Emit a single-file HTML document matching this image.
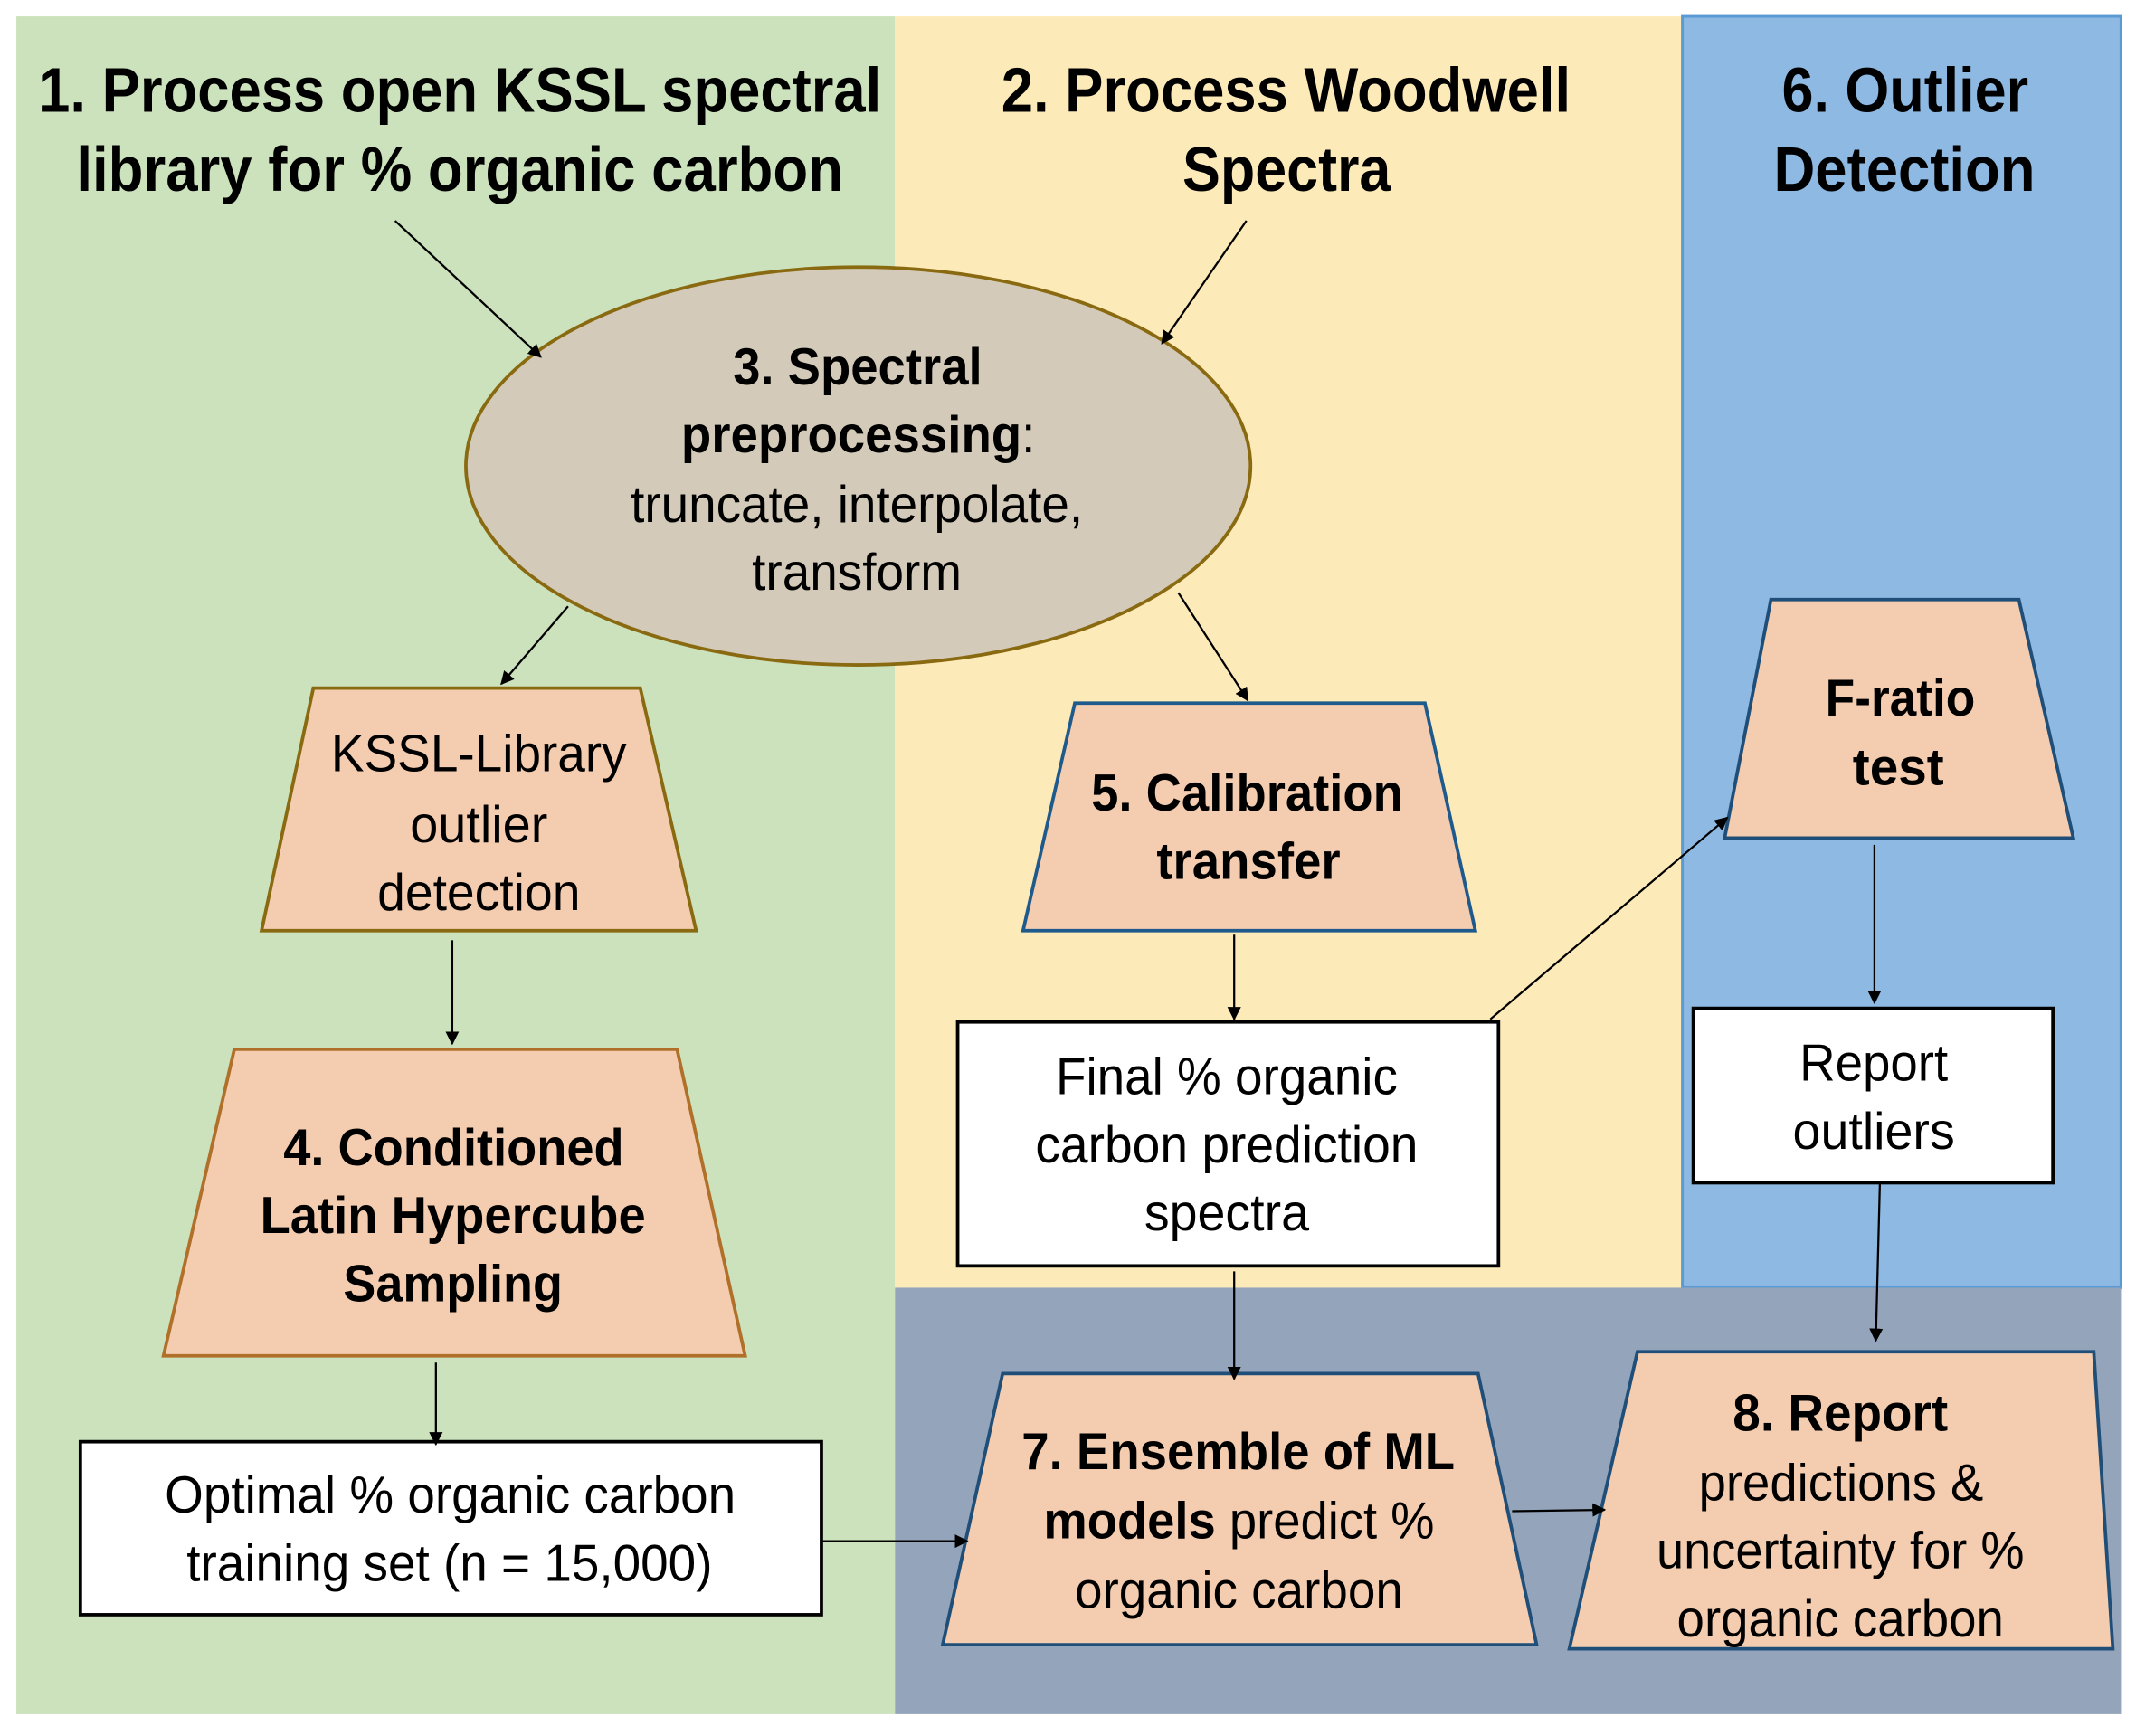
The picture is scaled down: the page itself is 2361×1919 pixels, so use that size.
<!DOCTYPE html>
<html><head><meta charset="utf-8"><style>
html,body{margin:0;padding:0;background:#fff}
svg{display:block}
text{font-family:"Liberation Sans",Arial,sans-serif;fill:#000}
.b{font-weight:bold}
</style></head><body>
<svg width="2361" height="1919" viewBox="0 0 1568 1274" preserveAspectRatio="none" xmlns="http://www.w3.org/2000/svg">
<defs><marker id="a" markerWidth="10" markerHeight="10" refX="9" refY="5" orient="auto" markerUnits="userSpaceOnUse"><path d="M0,0 L10,5 L0,10 z" fill="#000"/></marker></defs>
<rect x="0" y="0" width="1568" height="1274" fill="#fff"/>
<rect x="12" y="12" width="645" height="1246" fill="#cce2bc"/>
<rect x="657" y="12" width="578" height="933" fill="#fdeab9"/>
<rect x="1235" y="12" width="322" height="933" fill="#8db9e2" stroke="#5b9bd5" stroke-width="2"/>
<rect x="657" y="945" width="900" height="313" fill="#94a4bb"/>

<g font-size="46" class="b">
<text class="b" x="28" y="82" textLength="619" lengthAdjust="spacingAndGlyphs">1. Process open KSSL spectral</text>
<text class="b" x="56" y="140" textLength="563" lengthAdjust="spacingAndGlyphs">library for % organic carbon</text>
<text class="b" x="735" y="82" textLength="418" lengthAdjust="spacingAndGlyphs">2. Process Woodwell</text>
<text class="b" x="868" y="140" textLength="153" lengthAdjust="spacingAndGlyphs">Spectra</text>
<text class="b" x="1308" y="82" textLength="181" lengthAdjust="spacingAndGlyphs">6. Outlier</text>
<text class="b" x="1302" y="140" textLength="192" lengthAdjust="spacingAndGlyphs">Detection</text>
</g>

<ellipse cx="630" cy="342" rx="288" ry="146" fill="#d3cab9" stroke="#8a6a10" stroke-width="2.5"/>
<g font-size="38">
<text class="b" x="538" y="282" textLength="183" lengthAdjust="spacingAndGlyphs">3. Spectral</text>
<text x="500" y="332" textLength="260" lengthAdjust="spacingAndGlyphs"><tspan class="b">preprocessing</tspan>:</text>
<text x="463" y="383" textLength="332" lengthAdjust="spacingAndGlyphs">truncate, interpolate,</text>
<text x="552" y="433" textLength="154" lengthAdjust="spacingAndGlyphs">transform</text>
</g>

<g fill="#f4cdb0" stroke-width="2.5">
<polygon points="230,505 470,505 511,683 192,683" stroke="#8a6a10"/>
<polygon points="172,770 497,770 547,995 120,995" stroke="#b0702a"/>
<polygon points="789,516 1046,516 1083,683 751,683" stroke="#1f5a8c"/>
<polygon points="1300,440 1482,440 1522,615 1266,615" stroke="#1f4e79"/>
<polygon points="736,1008 1085,1008 1128,1207 692,1207" stroke="#1f4e79"/>
<polygon points="1202,992 1537,992 1551,1210 1152,1210" stroke="#1f4e79"/>
</g>
<g fill="#fff" stroke="#000" stroke-width="2.5">
<rect x="59" y="1058" width="544" height="127"/>
<rect x="703" y="750" width="397" height="179"/>
<rect x="1243" y="740" width="264" height="128"/>
</g>

<g font-size="38">
<text x="243" y="566" textLength="217" lengthAdjust="spacingAndGlyphs">KSSL-Library</text>
<text x="301" y="618" textLength="101" lengthAdjust="spacingAndGlyphs">outlier</text>
<text x="277" y="668" textLength="149" lengthAdjust="spacingAndGlyphs">detection</text>
<text class="b" x="208" y="855" textLength="250" lengthAdjust="spacingAndGlyphs">4. Conditioned</text>
<text class="b" x="191" y="905" textLength="283" lengthAdjust="spacingAndGlyphs">Latin Hypercube</text>
<text class="b" x="252" y="955" textLength="161" lengthAdjust="spacingAndGlyphs">Sampling</text>
<text x="121" y="1110" textLength="419" lengthAdjust="spacingAndGlyphs">Optimal % organic carbon</text>
<text x="137" y="1160" textLength="386" lengthAdjust="spacingAndGlyphs">training set (n = 15,000)</text>
<text class="b" x="801" y="595" textLength="229" lengthAdjust="spacingAndGlyphs">5. Calibration</text>
<text class="b" x="849" y="645" textLength="135" lengthAdjust="spacingAndGlyphs">transfer</text>
<text x="775" y="803" textLength="251" lengthAdjust="spacingAndGlyphs">Final % organic</text>
<text x="760" y="853" textLength="281" lengthAdjust="spacingAndGlyphs">carbon prediction</text>
<text x="840" y="903" textLength="121" lengthAdjust="spacingAndGlyphs">spectra</text>
<text class="b" x="1340" y="525" textLength="110" lengthAdjust="spacingAndGlyphs">F-ratio</text>
<text class="b" x="1360" y="576" textLength="67" lengthAdjust="spacingAndGlyphs">test</text>
<text x="1321" y="793" textLength="109" lengthAdjust="spacingAndGlyphs">Report</text>
<text x="1316" y="843" textLength="119" lengthAdjust="spacingAndGlyphs">outliers</text>
<text class="b" x="750" y="1078" textLength="318" lengthAdjust="spacingAndGlyphs">7. Ensemble of ML</text>
<text x="766" y="1129" textLength="287" lengthAdjust="spacingAndGlyphs"><tspan class="b">models</tspan> predict %</text>
<text x="789" y="1180" textLength="241" lengthAdjust="spacingAndGlyphs">organic carbon</text>
<text class="b" x="1272" y="1050" textLength="158" lengthAdjust="spacingAndGlyphs">8. Report</text>
<text x="1247" y="1101" textLength="209" lengthAdjust="spacingAndGlyphs">predictions &amp;</text>
<text x="1216" y="1151" textLength="270" lengthAdjust="spacingAndGlyphs">uncertainty for %</text>
<text x="1231" y="1201" textLength="240" lengthAdjust="spacingAndGlyphs">organic carbon</text>
</g>

<g stroke="#000" stroke-width="1.5" marker-end="url(#a)">
<line x1="290" y1="162" x2="397" y2="262"/>
<line x1="915" y1="162" x2="853" y2="252"/>
<line x1="417" y1="445" x2="368" y2="502"/>
<line x1="865" y1="435" x2="916" y2="514"/>
<line x1="332" y1="690" x2="332" y2="766"/>
<line x1="906" y1="686" x2="906" y2="748"/>
<line x1="1094" y1="748" x2="1268" y2="600"/>
<line x1="1376" y1="620" x2="1376" y2="736"/>
<line x1="320" y1="1000" x2="320" y2="1060"/>
<line x1="906" y1="933" x2="906" y2="1012"/>
<line x1="1380" y1="868" x2="1377" y2="984"/>
<line x1="603" y1="1131" x2="710" y2="1131"/>
<line x1="1110" y1="1109" x2="1178" y2="1108"/>
</g>
</svg>
</body></html>
